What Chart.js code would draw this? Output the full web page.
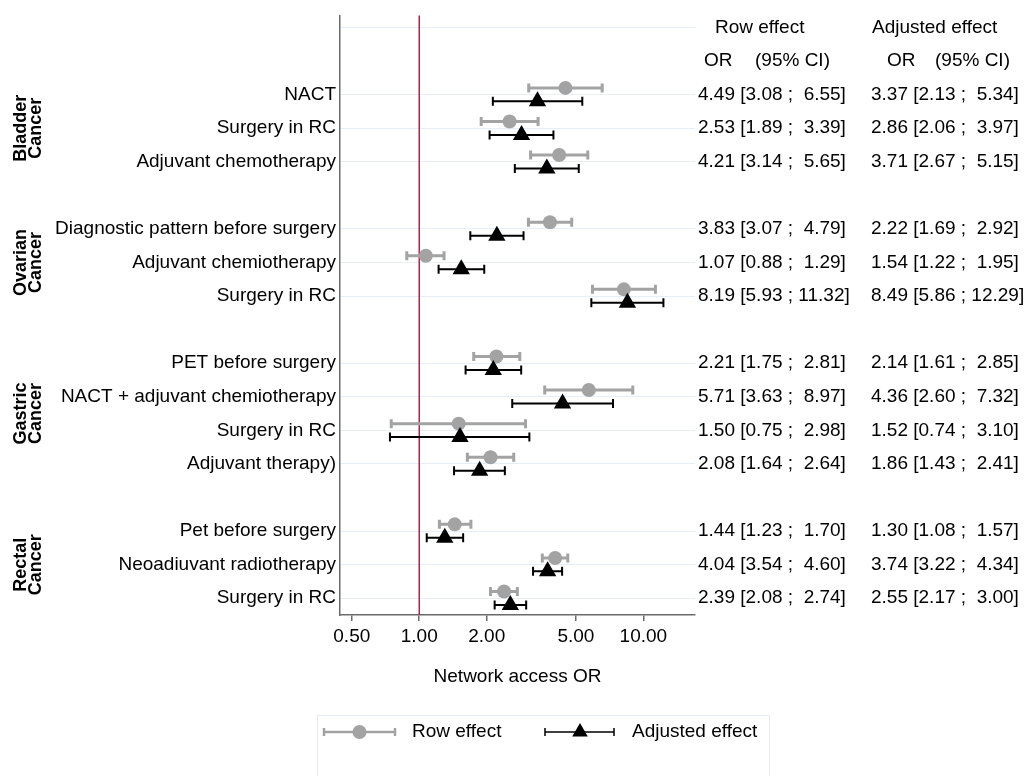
<!doctype html>
<html lang="en">
<head>
<meta charset="utf-8">
<title>Network access OR - forest plot</title>
<script src="https://cdn.jsdelivr.net/npm/chart.js"></script>
<style>
  body { margin: 0; background: #fff; }
</style>
</head>
<body>
<canvas id="forest" width="1035" height="776"></canvas>
<script>
const groupNames = [['Bladder', 'Cancer'], ['Ovarian', 'Cancer'], ['Gastric', 'Cancer'], ['Rectal', 'Cancer']];
const groupSizes = [3, 3, 4, 3];
const rowLabels = [
  'NACT', 'Surgery in RC', 'Adjuvant chemotherapy',
  'Diagnostic pattern before surgery', 'Adjuvant chemiotherapy', 'Surgery in RC',
  'PET before surgery', 'NACT + adjuvant chemiotherapy', 'Surgery in RC', 'Adjuvant therapy)',
  'Pet before surgery', 'Neoadiuvant radiotherapy', 'Surgery in RC'
];
const rowOR = [4.49, 2.53, 4.21, 3.83, 1.07, 8.19, 2.21, 5.71, 1.50, 2.08, 1.44, 4.04, 2.39];
const rowLo = [3.08, 1.89, 3.14, 3.07, 0.88, 5.93, 1.75, 3.63, 0.75, 1.64, 1.23, 3.54, 2.08];
const rowHi = [6.55, 3.39, 5.65, 4.79, 1.29, 11.32, 2.81, 8.97, 2.98, 2.64, 1.70, 4.60, 2.74];
const adjOR = [3.37, 2.86, 3.71, 2.22, 1.54, 8.49, 2.14, 4.36, 1.52, 1.86, 1.30, 3.74, 2.55];
const adjLo = [2.13, 2.06, 2.67, 1.69, 1.22, 5.86, 1.61, 2.60, 0.74, 1.43, 1.08, 3.22, 2.17];
const adjHi = [5.34, 3.97, 5.15, 2.92, 1.95, 12.29, 2.85, 7.32, 3.10, 2.41, 1.57, 4.34, 3.00];
const xTicks = [0.5, 1, 2, 5, 10];
const refLine = 1;

// rows go down from 0, with one empty row between groups
const rowPos = [];
const groupMid = [];
let p = 0;
groupSizes.forEach(n => {
  const start = p;
  for (let i = 0; i < n; i++) rowPos.push(p++);
  groupMid.push((start + p - 1) / 2);
  p++;
});
const gridRows = [-2].concat(rowPos);

const GREY = '#a3a3a3';
const AXIS = '#6b6b6b';
const FONT = '"Liberation Sans", Arial, sans-serif';
Chart.defaults.font.family = FONT;
Chart.defaults.font.size = 19;
Chart.defaults.color = '#000';

function ci(or, lo, hi) {
  return or.toFixed(2) + ' [' + lo.toFixed(2) + ' ; ' + hi.toFixed(2).padStart(5, ' ') + ']';
}

function errorBar(ctx, x1, x2, y, cap) {
  ctx.beginPath();
  ctx.moveTo(x1, y); ctx.lineTo(x2, y);
  ctx.moveTo(x1, y - cap); ctx.lineTo(x1, y + cap);
  ctx.moveTo(x2, y - cap); ctx.lineTo(x2, y + cap);
  ctx.stroke();
}

const forestPlugin = {
  id: 'forest',
  beforeDatasetsDraw(chart) {
    const { ctx, chartArea, scales: { x, y } } = chart;
    ctx.save();
    const rx = x.getPixelForValue(refLine);
    ctx.strokeStyle = '#d2163e';
    ctx.lineWidth = 1.5;
    ctx.beginPath(); ctx.moveTo(rx, chartArea.top); ctx.lineTo(rx, chartArea.bottom); ctx.stroke();
    chart.data.datasets.forEach(ds => {
      ctx.strokeStyle = ds.barColor;
      ctx.lineWidth = ds.barWidth;
      ds.data.forEach(d => {
        errorBar(ctx, x.getPixelForValue(d.lo), x.getPixelForValue(d.hi), y.getPixelForValue(d.y), 4.5);
      });
    });
    ctx.restore();
  },
  afterDraw(chart) {
    const { ctx, scales: { y } } = chart;
    ctx.save();
    ctx.fillStyle = '#000';
    ctx.textBaseline = 'middle';
    ctx.textAlign = 'left';
    ctx.font = '19px ' + FONT;
    ctx.fillText('Row effect', 715, y.getPixelForValue(-2));
    ctx.fillText('Adjusted effect', 872, y.getPixelForValue(-2));
    ctx.fillText('OR', 704, y.getPixelForValue(-1));
    ctx.fillText('(95% CI)', 755, y.getPixelForValue(-1));
    ctx.fillText('OR', 887, y.getPixelForValue(-1));
    ctx.fillText('(95% CI)', 935, y.getPixelForValue(-1));
    rowPos.forEach((r, i) => {
      const py = y.getPixelForValue(r);
      ctx.fillText(ci(rowOR[i], rowLo[i], rowHi[i]), 698, py);
      ctx.fillText(ci(adjOR[i], adjLo[i], adjHi[i]), 871, py);
    });

    // group names, rotated
    ctx.font = 'bold 18px ' + FONT;
    ctx.textAlign = 'center';
    ctx.textBaseline = 'alphabetic';
    groupNames.forEach((lines, g) => {
      const py = y.getPixelForValue(groupMid[g]);
      [26, 41].forEach((bx, k) => {
        ctx.save();
        ctx.translate(bx, py);
        ctx.rotate(-Math.PI / 2);
        ctx.fillText(lines[k], 0, 0);
        ctx.restore();
      });
    });

    // legend
    ctx.strokeStyle = '#e3ebf3';
    ctx.lineWidth = 1;
    ctx.strokeRect(317.5, 715.5, 452, 100);
    const ly = 732;
    ctx.strokeStyle = GREY; ctx.lineWidth = 2.5;
    errorBar(ctx, 324, 395, ly, 4);
    ctx.fillStyle = GREY;
    Chart.helpers.drawPoint(ctx, { pointStyle: 'circle', radius: 7, rotation: 0, borderWidth: 0 }, 359.5, ly);
    ctx.strokeStyle = '#000'; ctx.lineWidth = 1.5;
    errorBar(ctx, 545, 614, ly, 4);
    ctx.fillStyle = '#000';
    Chart.helpers.drawPoint(ctx, { pointStyle: 'triangle', radius: 9, rotation: 0, borderWidth: 0 }, 580, ly);
    ctx.font = '19px ' + FONT;
    ctx.textAlign = 'left';
    ctx.textBaseline = 'middle';
    ctx.fillText('Row effect', 412, ly);
    ctx.fillText('Adjusted effect', 632, ly);
    ctx.restore();
  }
};

new Chart(document.getElementById('forest'), {
  type: 'scatter',
  data: {
    datasets: [
      {
        label: 'Row effect',
        data: rowOR.map((v, i) => ({ x: v, y: rowPos[i] - 0.2, lo: rowLo[i], hi: rowHi[i] })),
        pointStyle: 'circle', pointRadius: 7, pointHoverRadius: 7,
        backgroundColor: GREY, borderColor: GREY, borderWidth: 0,
        barColor: GREY, barWidth: 3, order: 1
      },
      {
        label: 'Adjusted effect',
        data: adjOR.map((v, i) => ({ x: v, y: rowPos[i] + 0.2, lo: adjLo[i], hi: adjHi[i] })),
        pointStyle: 'triangle', pointRadius: 10, pointHoverRadius: 10,
        backgroundColor: '#000', borderColor: '#000', borderWidth: 0,
        barColor: '#000', barWidth: 2, order: 0
      }
    ]
  },
  options: {
    responsive: false,
    animation: false,
    layout: { padding: { left: 0, right: 340, top: 14, bottom: 76 } },
    plugins: { legend: { display: false }, tooltip: { enabled: false } },
    scales: {
      x: {
        type: 'logarithmic',
        min: 0.443,
        max: 17,
        afterBuildTicks: s => { s.ticks = xTicks.map(v => ({ value: v })); },
        afterFit: s => { s.height = 85; },
        grid: { drawOnChartArea: false, drawTicks: true, tickLength: 6, color: AXIS, lineWidth: 1.5 },
        border: { color: AXIS, width: 1.5 },
        ticks: { autoSkip: false, maxRotation: 0, padding: 4, callback: v => Number(v).toFixed(2) },
        title: { display: true, text: 'Network access OR', padding: { top: 0, bottom: 12 } }
      },
      y: {
        type: 'linear',
        reverse: true,
        min: -2.36,
        max: 15.5,
        afterBuildTicks: s => { s.ticks = gridRows.map(v => ({ value: v })); },
        afterFit: s => { s.width = 340; },
        grid: {
          drawTicks: false,
          lineWidth: 1,
          color: c => (c.tick && gridRows.includes(c.tick.value)) ? '#e6eef6' : 'rgba(0,0,0,0)'
        },
        border: { color: AXIS, width: 1.5 },
        ticks: {
          autoSkip: false,
          padding: 4,
          callback: v => { const i = rowPos.indexOf(v); return i < 0 ? '' : rowLabels[i]; }
        }
      }
    }
  },
  plugins: [forestPlugin]
});
</script>
</body>
</html>
